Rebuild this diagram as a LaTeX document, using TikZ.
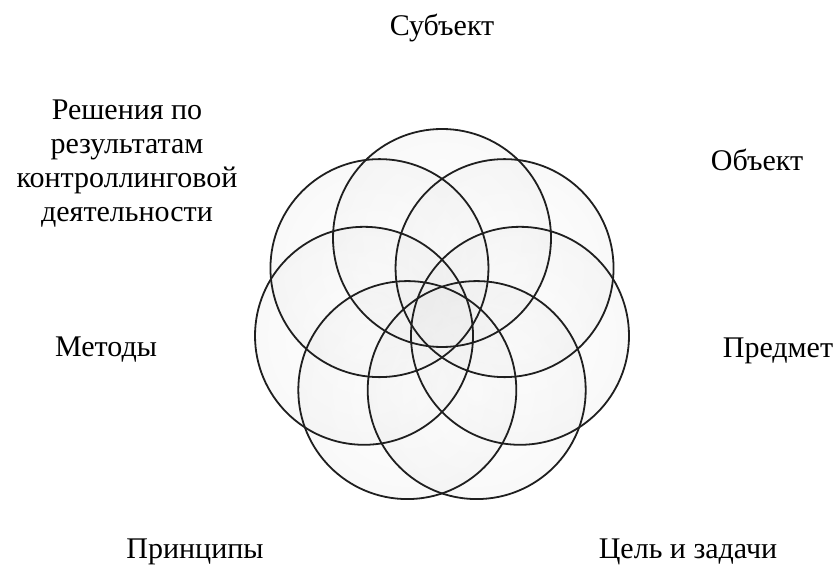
\documentclass[tikz,border=0pt]{standalone}
\usepackage{fontspec}
\setmainfont{Liberation Serif}
\usetikzlibrary{calc}
\begin{document}
\begin{tikzpicture}[x=1pt,y=1pt,
  ringbase/.style={circle, minimum size=218pt, inner sep=0pt},
  ringfill/.style={ringbase, shading=radial, inner color=white, outer color=black!10, fill opacity=0.22},
  ring/.style={ringbase, draw=black!88, line width=1.8pt},
  lbl/.style={font=\fontsize{30}{34}\selectfont, inner sep=0pt, align=center}]
\useasboundingbox (0,0) rectangle (837,565);
\fill[white] (0,0) rectangle (837,565);
\coordinate (o) at (442,247);
\foreach \i/\a in {1/90,2/141.43,3/38.57,4/192.86,5/-12.86,6/244.29,7/-64.29}{
  \node[ringfill] (f\i) at ($(o)+(\a:80)$) {};
}
\foreach \i/\a in {1/90,2/141.43,3/38.57,4/192.86,5/-12.86,6/244.29,7/-64.29}{
  \node[ring] (c\i) at ($(o)+(\a:80)$) {};
}
\node[lbl] (subj) at (442,537) {Субъект};
\node[lbl] (obj) at (757,405) {Объект};
\node[lbl] (pred) at (778,214) {Предмет};
\node[lbl] (meth) at (106,215) {Методы};
\node[lbl] (princ) at (195,13) {Принципы};
\node[lbl] (goal) at (688,13) {Цель и задачи};
\node[lbl] (dec) at (127,401) {Решения по\\результатам\\контроллинговой\\деятельности};
\end{tikzpicture}
\end{document}
